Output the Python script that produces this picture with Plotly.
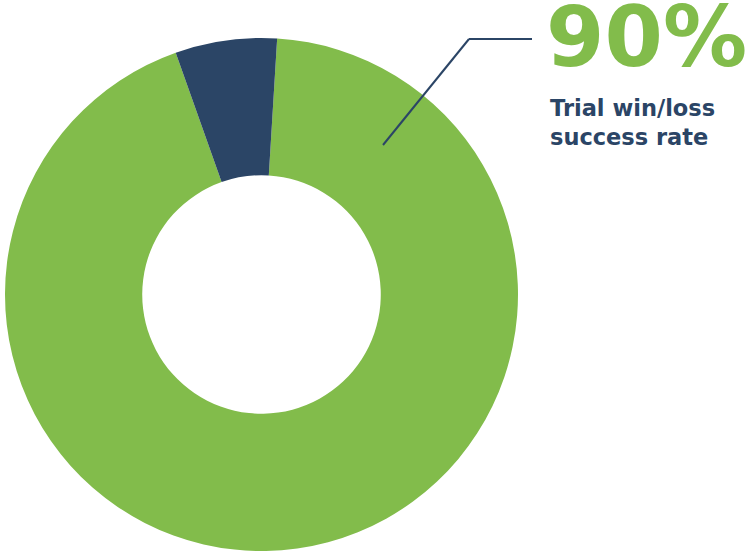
import plotly.graph_objects as go

W, H = 755, 551
labels = ["Win", "Loss"]
values = [93.6, 6.4]
colors = ["#82BC4B", "#2B4566"]
big_text = "90%"
sub_text = "Trial win/loss<br>success rate"

fig = go.Figure(go.Pie(
    labels=labels, values=values, hole=0.465, sort=False,
    direction="clockwise", rotation=3.5,
    marker=dict(colors=colors, line=dict(width=0)),
    textinfo="none", hoverinfo="label+value",
    domain=dict(x=[5 / W, 518 / W], y=[0, 513 / H]),
))

def px(x):
    return x / W

def py(y):
    return 1 - y / H

fig.add_shape(type="line", xref="paper", yref="paper",
              x0=px(383), y0=py(145), x1=px(469), y1=py(39),
              line=dict(color="#2B4566", width=2))
fig.add_shape(type="line", xref="paper", yref="paper",
              x0=px(469), y0=py(39), x1=px(532), y1=py(39),
              line=dict(color="#2B4566", width=2))

fig.add_annotation(x=px(545), y=py(37), xref="paper", yref="paper",
                   xanchor="left", yanchor="middle", showarrow=False,
                   borderpad=0,
                   text=big_text,
                   font=dict(family="DejaVu Sans", size=84, color="#82BC4B", weight="bold"))
fig.add_annotation(x=px(548), y=py(123), xref="paper", yref="paper",
                   xanchor="left", yanchor="middle", showarrow=False, align="left",
                   text=sub_text,
                   font=dict(family="DejaVu Sans", size=22.5, color="#2B4566", weight="bold"))

fig.update_layout(width=W, height=H, margin=dict(l=0, r=0, t=0, b=0),
                  showlegend=False, paper_bgcolor="white", plot_bgcolor="white")
fig.write_html("out.html")
